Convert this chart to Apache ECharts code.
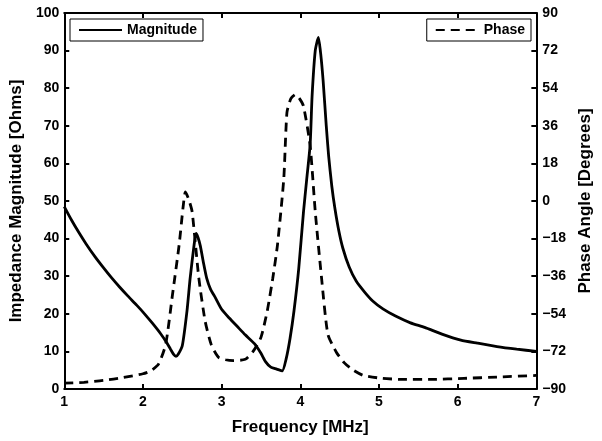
<!DOCTYPE html>
<html>
<head>
<meta charset="utf-8">
<script src="https://cdn.jsdelivr.net/npm/echarts@6/dist/echarts.min.js"></script>
<style>
  html, body { margin: 0; padding: 0; background: #fff; }
  #chart { width: 602px; height: 441px; }
</style>
</head>
<body>
<div id="chart"></div>
<script>
// Frequency [MHz] and impedance magnitude [Ohms]
const magFreq = [1.0, 1.09, 1.18, 1.28, 1.39, 1.5, 1.6, 1.7, 1.81, 1.92, 2.02, 2.12, 2.225, 2.3, 2.35, 2.39, 2.42, 2.45, 2.5, 2.56, 2.6, 2.65, 2.675, 2.7, 2.73, 2.77, 2.81, 2.86, 2.92, 3.0, 3.1, 3.2, 3.3, 3.42, 3.5, 3.56, 3.625, 3.7, 3.77, 3.82, 3.87, 3.92, 3.98, 4.04, 4.08, 4.125, 4.15, 4.19, 4.23, 4.26, 4.29, 4.33, 4.36, 4.4, 4.44, 4.49, 4.54, 4.62, 4.71, 4.82, 4.92, 5.05, 5.21, 5.4, 5.58, 5.8, 6.04, 6.25, 6.5, 6.75, 7.0];
const magValues = [48.5, 45, 41.8, 38.5, 35.2, 32.2, 29.6, 27.2, 24.7, 22.3, 20, 17.5, 14.7, 12.4, 10.6, 9.2, 8.7, 9.3, 11.5, 20.8, 29.5, 38.3, 41.4, 40.3, 38, 33.5, 29.5, 26.5, 24.3, 21.2, 18.8, 16.6, 14.4, 12, 9.5, 7.2, 5.8, 5.3, 4.8, 8, 13.5, 20.8, 32, 47, 55.5, 65, 78, 90, 93.5, 89, 82, 70, 62, 54, 48, 42, 37.5, 32.5, 28.7, 25.7, 23.4, 21.3, 19.4, 17.6, 16.4, 14.6, 13, 12.2, 11.3, 10.6, 10];

// Frequency [MHz] and phase angle [Degrees]
const phaseFreq = [1.0, 1.25, 1.5, 1.75, 2.0, 2.1, 2.2, 2.29, 2.375, 2.46, 2.51, 2.54, 2.58, 2.625, 2.71, 2.79, 2.87, 2.96, 3.05, 3.15, 3.3, 3.4, 3.5, 3.58, 3.65, 3.71, 3.79, 3.83, 3.88, 3.94, 3.99, 4.04, 4.125, 4.19, 4.27, 4.35, 4.46, 4.56, 4.67, 4.8, 5.04, 5.3, 5.67, 6.08, 6.5, 7.0];
const phaseValues = [-87.2, -86.8, -85.9, -84.5, -82.7, -81.3, -78, -68.5, -45, -21, -3, 4.3, 1, -5.1, -36.8, -57.4, -69, -74.8, -76, -76.4, -75.8, -72, -65.3, -52.6, -37, -21, 10.7, 42.3, 49, 51, 49, 45.5, 26.5, -5.1, -36.8, -63.7, -72.5, -77.5, -80.9, -83.5, -84.9, -85.4, -85.4, -84.9, -84.3, -83.5];

const font = "'Liberation Sans', Arial, sans-serif";

const chart = echarts.init(document.getElementById("chart"));

const axisText = { color: "#000", fontFamily: font, fontWeight: "bold", fontSize: 14 };
const nameText = { color: "#000", fontFamily: font, fontWeight: "bold", fontSize: 17 };
const boxLine = { show: true, onZero: false, lineStyle: { color: "#000", width: 2 } };
const inTick = { show: true, inside: true, length: 5, lineStyle: { color: "#000", width: 2 } };

const legendBase = {
  top: 19,
  padding: [4, 6, 4, 8],
  itemWidth: 43,
  itemHeight: 14,
  borderColor: "#000",
  borderWidth: 1,
  borderRadius: 0,
  backgroundColor: "#fff",
  itemStyle: { opacity: 0 },
  textStyle: { color: "#000", fontFamily: font, fontWeight: "bold", fontSize: 14 },
};

const option = {
  animation: false,
  backgroundColor: "#fff",
  grid: { left: 60, right: 61, top: 13, bottom: 49 },
  legend: [
    { ...legendBase, data: ["Magnitude"], left: 70 },
    { ...legendBase, data: ["Phase"], right: 71 },
  ],
  xAxis: [
    {
      type: "value",
      min: 1,
      max: 7,
      interval: 1,
      name: "Frequency [MHz]",
      nameLocation: "middle",
      nameGap: 30,
      nameTextStyle: nameText,
      axisLine: boxLine,
      axisTick: inTick,
      axisLabel: { ...axisText, margin: 6 },
      splitLine: { show: false },
    },
    {
      type: "value",
      position: "top",
      min: 1,
      max: 7,
      interval: 1,
      axisLine: boxLine,
      axisTick: inTick,
      axisLabel: { show: false },
      splitLine: { show: false },
    },
  ],
  yAxis: [
    {
      type: "value",
      min: 0,
      max: 100,
      interval: 10,
      name: "Impedance Magnitude [Ohms]",
      nameLocation: "middle",
      nameGap: 38,
      nameTextStyle: nameText,
      axisLine: boxLine,
      axisTick: inTick,
      axisLabel: { ...axisText, margin: 5 },
      splitLine: { show: false },
    },
    {
      type: "value",
      position: "right",
      min: -90,
      max: 90,
      interval: 18,
      name: "Phase Angle [Degrees]",
      nameLocation: "middle",
      nameGap: 37,
      nameRotate: 90,
      nameTextStyle: nameText,
      axisLine: boxLine,
      axisTick: inTick,
      axisLabel: {
        ...axisText,
        margin: 6,
        formatter: (v) => (v < 0 ? "\u2212" + Math.abs(v) : String(v)),
      },
      splitLine: { show: false },
    },
  ],
  series: [
    {
      name: "Magnitude",
      type: "line",
      xAxisIndex: 0,
      yAxisIndex: 0,
      showSymbol: false,
      symbol: "none",
      smooth: 0.2,
      lineStyle: { color: "#000", width: 2.8, type: "solid" },
      itemStyle: { color: "#000" },
      data: magFreq.map((f, i) => [f, magValues[i]]),
    },
    {
      name: "Phase",
      type: "line",
      xAxisIndex: 0,
      yAxisIndex: 1,
      showSymbol: false,
      symbol: "none",
      smooth: 0.2,
      lineStyle: { color: "#000", width: 2.8, type: [9, 6] },
      itemStyle: { color: "#000" },
      data: phaseFreq.map((f, i) => [f, phaseValues[i]]),
    },
  ],
};

chart.setOption(option);
</script>
</body>
</html>
